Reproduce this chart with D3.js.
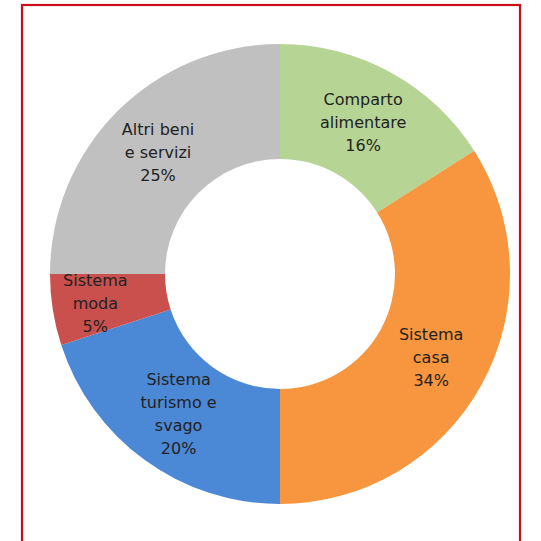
<!DOCTYPE html>
<html>
<head>
<meta charset="utf-8">
<script src="https://cdn.jsdelivr.net/npm/d3@7"></script>
<style>
  html, body { margin: 0; padding: 0; background: #fff; }
  svg { display: block; }
</style>
</head>
<body>
<svg id="chart" width="541" height="541"></svg>
<script>
// Sector shares (percent), drawn clockwise from 12 o'clock
const categories = [
  ["Comparto", "alimentare"],
  ["Sistema", "casa"],
  ["Sistema", "turismo e", "svago"],
  ["Sistema", "moda"],
  ["Altri beni", "e servizi"]
];
const values = [16, 34, 20, 5, 25];
const colors = ["#b6d595", "#f8953f", "#4b88d6", "#c9504d", "#c0c0c0"];

const width = 541, height = 541;
const cx = 280, cy = 274;
const outerR = 230, innerR = 115;

const svg = d3.select("#chart");

// frame
svg.append("rect")
  .attr("x", 22).attr("y", 5)
  .attr("width", 498).attr("height", 545)
  .attr("fill", "none")
  .attr("stroke", "#c8101a")
  .attr("stroke-width", 2.2);

const data = values.map((v, i) => ({ label: categories[i], value: v, color: colors[i] }));

const pie = d3.pie().value(d => d.value).sort(null);
const arc = d3.arc().innerRadius(innerR).outerRadius(outerR);
const arcs = pie(data);

const g = svg.append("g").attr("transform", `translate(${cx},${cy})`);

g.selectAll("path.slice")
  .data(arcs)
  .join("path")
  .attr("class", "slice")
  .attr("d", arc)
  .attr("fill", d => d.data.color);

// labels at the ring's centroid; thin slices get their label pushed outward
const lineH = 23;
g.selectAll("text.lbl")
  .data(arcs)
  .join("text")
  .attr("class", "lbl")
  .attr("text-anchor", "middle")
  .attr("font-family", "'DejaVu Sans', Verdana, sans-serif")
  .attr("font-size", 16)
  .attr("fill", "#222")
  .each(function(d) {
    const span = d.endAngle - d.startAngle;
    const r = span < 0.4 ? 187 : (innerR + outerR) / 2;
    const a = (d.startAngle + d.endAngle) / 2;
    const x = r * Math.sin(a), y = -r * Math.cos(a);
    const lines = d.data.label.concat([d.data.value + "%"]);
    const t = d3.select(this);
    const top = y - (lines.length - 1) * lineH / 2;
    lines.forEach((s, i) => {
      t.append("tspan")
        .attr("x", x)
        .attr("y", top + i * lineH)
        .attr("dy", "0.35em")
        .text(s);
    });
  });
</script>
</body>
</html>
